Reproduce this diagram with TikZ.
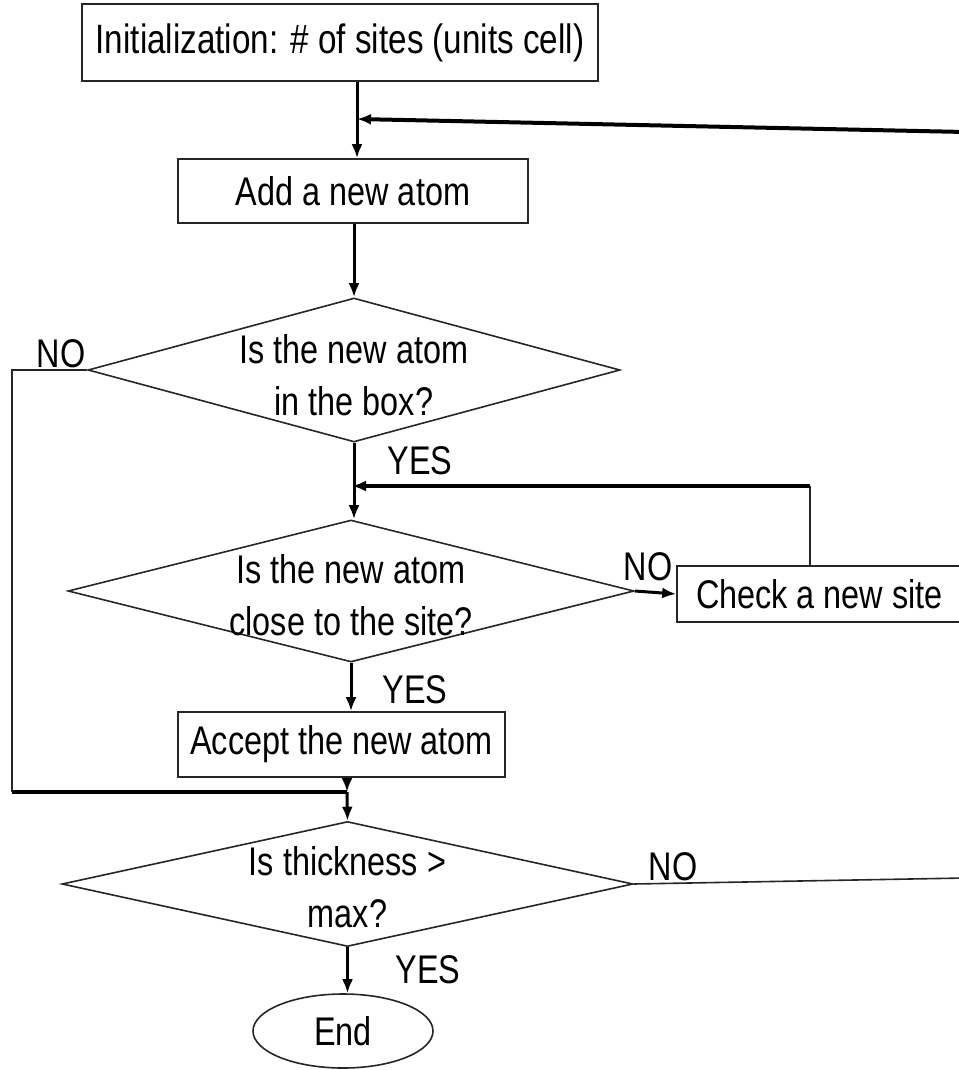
\documentclass[tikz,border=0pt]{standalone}
\usepackage{fontspec}
\setmainfont[FakeStretch=0.81]{Liberation Sans}
\usetikzlibrary{shapes.geometric,arrows.meta}
\begin{document}
\begin{tikzpicture}[x=1pt,y=-1pt,
  font=\fontsize{40}{52}\selectfont,
  procbox/.style={draw=black!85,line width=1.6pt,inner sep=0pt,align=center},
  decision/.style={draw=black!85,diamond,line width=1.6pt,inner sep=0pt},
  dtext/.style={inner sep=0pt,align=center},
  lbl/.style={inner sep=0pt},
  flow/.style={draw=black,line width=3pt,-{Latex[length=14pt,width=11pt]}},
  thickline/.style={draw=black,line width=4pt},
  thinline/.style={draw=black!85,line width=1.6pt}]
\useasboundingbox (0,0) rectangle (958,1070);
\fill[white] (0,0) rectangle (958,1070);

% nodes
\node[procbox,minimum width=516pt,minimum height=77pt,font=\fontsize{41}{52}\selectfont] (box1) at (340,42.5) {Initialization: \# of sites (units cell)};
\node[procbox,minimum width=350pt,minimum height=64pt] (box2) at (353,191) {Add a new atom};
\node[decision,minimum width=532pt,minimum height=144pt] (d1) at (354,370) {};
\node[dtext] (t1) at ([yshift=-5pt]d1.center) {Is the new atom\\in the box?};
\node[decision,minimum width=566pt,minimum height=142pt] (d2) at (351,591) {};
\node[dtext] (t2) at ([yshift=-4pt]d2.center) {Is the new atom\\close to the site?};
\node[procbox,minimum width=285pt,minimum height=56pt] (check) at (819.5,594) {Check a new site};
\node[procbox,minimum width=327pt,minimum height=65pt] (accept) at (341.5,744.5) {Accept the new atom};
\node[decision,minimum width=571pt,minimum height=125pt] (d3) at (347.5,884) {};
\node[dtext] (t3) at ([yshift=-3pt]d3.center) {Is thickness >\\max?};
\node[draw=black!85,ellipse,line width=1.6pt,minimum width=180pt,minimum height=74pt,inner sep=0pt] (end) at (343,1031) {End};

% labels
\node[lbl] (no1) at (61,354) {NO};
\node[lbl] (yes1) at (420,461) {YES};
\node[lbl] (no2) at (648,567) {NO};
\node[lbl] (yes2) at (415,690) {YES};
\node[lbl] (no3) at (673,867) {NO};
\node[lbl] (yes3) at (428,970) {YES};

% coordinates
\coordinate (j1) at (357,119);
\coordinate (fbR) at (965,132);
\coordinate (nL) at (12,792);
\coordinate (j2) at (347,792);
\coordinate (j3) at (352,486);
\coordinate (c1) at (810,486);
\coordinate (noR) at (965,878);

% connectors
\draw[flow] (box1.south -| j1) -- (box2.north -| j1);
\draw[thickline,-{Latex[length=14pt,width=11pt]}] (fbR) -- (j1);
\draw[flow] (box2.south -| d1.north) -- (d1.north);
\draw[thinline] (d1.west) -| (nL);
\draw[thickline] (nL) -- (j2);
\draw[flow] (d1.south) -- (d2.north -| d1.south);
\draw[thinline] (check.north -| c1) -- (c1);
\draw[thickline,-{Latex[length=14pt,width=11pt]}] (c1) -- (j3);
\draw[flow] (d2.east) -- (check.west);
\draw[flow] (d2.south) -- (accept.north -| d2.south);
\draw[flow] (accept.south -| j2) -- (j2);
\draw[flow] (j2) -- (d3.north);
\draw[thinline] (d3.east) -- (noR);
\draw[flow] (d3.south) -- (end.north -| d3.south);
\end{tikzpicture}
\end{document}
